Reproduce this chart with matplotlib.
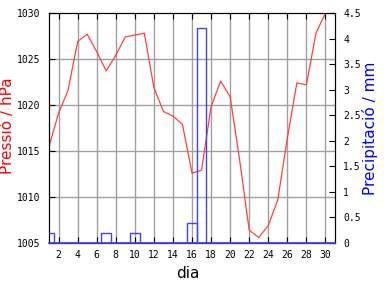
import numpy as np
import matplotlib
matplotlib.use("Agg")
import matplotlib.pyplot as plt

days = list(range(1, 31))
pressure = [1015.5, 1019.1, 1021.6, 1026.9, 1027.7, 1025.8, 1023.7, 1025.4, 1027.4, 1027.6,
            1027.8, 1021.9, 1019.3, 1018.8, 1017.9, 1012.6, 1012.9, 1019.8, 1022.6, 1020.9,
            1014.0, 1006.4, 1005.6, 1006.9, 1009.7, 1016.4, 1022.4, 1022.2, 1027.8, 1030.0]
rain = [0.2, 0, 0, 0, 0, 0, 0.2, 0, 0, 0.2,
        0, 0, 0, 0, 0, 0.4, 4.2, 0, 0, 0,
        0, 0, 0, 0, 0, 0, 0, 0, 0, 0]
xticks = list(range(2, 31, 2))
pticks = list(range(1005, 1031, 5))
rticks = [0, 0.5, 1, 1.5, 2, 2.5, 3, 3.5, 4, 4.5]

red = "#ff4040"
blue = "#4040ff"
grid = "#a0a0a0"

fig = plt.figure(figsize=(3.84, 2.88), dpi=100)
ax = fig.add_axes([49 / 384, 1 - 243 / 288, 286 / 384, 230 / 288])
ax2 = ax.twinx()

ax.set_xlim(1, 31)
ax.set_ylim(1005, 1030)
ax2.set_ylim(0, 4.5)

# grid
for x in xticks:
    ax.axvline(x, color=grid, lw=1, zorder=0)
for p in pticks[1:-1]:
    ax.axhline(p, color=grid, lw=1, zorder=0)

ax.plot(days, pressure, color=red, lw=0.9, zorder=3)

ax2.bar(days, rain, width=1, fill=False, edgecolor=blue, lw=1, zorder=4)
ax2.plot([1, 31], [0, 0], color=blue, lw=1.2, zorder=5, clip_on=False)

ax.set_xticks(xticks)
ax.set_yticks(pticks)
ax2.set_yticks(rticks)
ax2.set_yticklabels(["0", "0.5", "1", "1.5", "2", "2.5", "3", "3.5", "4", "4.5"])

mono = "DejaVu Sans Mono"
ax.tick_params(axis="x", direction="in", top=True, length=4, labelsize=7, pad=5)
ax.tick_params(axis="y", direction="in", length=4, labelsize=7, pad=6)
ax2.tick_params(axis="y", direction="in", length=4, labelsize=7, pad=6)
for lab in ax.get_xticklabels() + ax.get_yticklabels() + ax2.get_yticklabels():
    lab.set_family(mono)

for sp in ax.spines.values():
    sp.set_color("black")
for sp in ax2.spines.values():
    sp.set_color("black")

fig.text(8 / 384, 1 - 126 / 288, "Pressió / hPa", color="#ff0000", fontsize=11,
         rotation=90, ha="center", va="center")
fig.text(370 / 384, 1 - 128 / 288, "Precipitació / mm", color="#0000ff", fontsize=11,
         rotation=90, ha="center", va="center")
fig.text(188 / 384, 1 - 273 / 288, "dia", color="black", fontsize=11,
         ha="center", va="center")

fig.savefig("out.png", dpi=100)
